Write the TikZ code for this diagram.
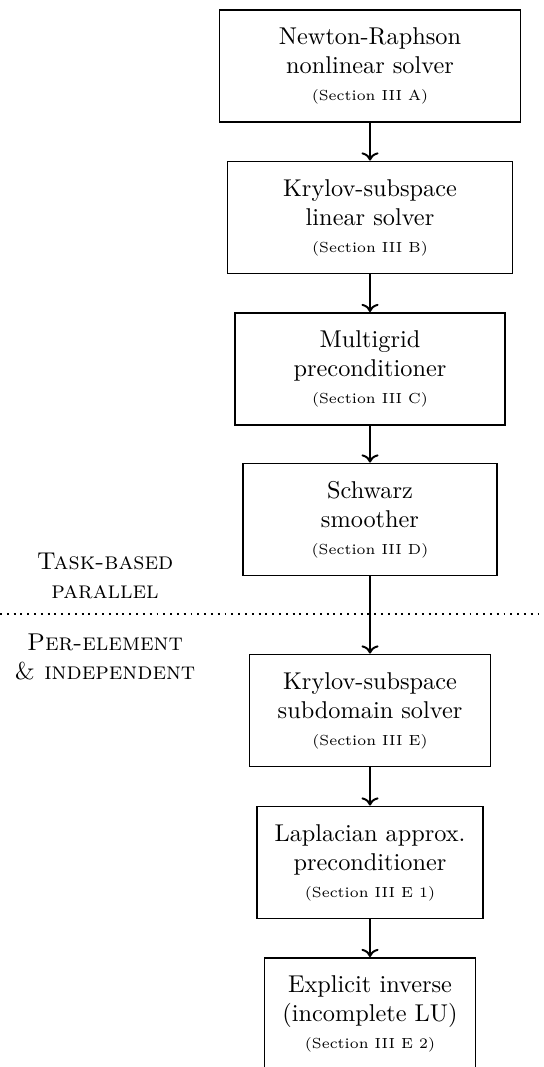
\documentclass[tikz,border=0pt]{standalone}
\usetikzlibrary{arrows.meta}
\tikzset{
  stagebox/.style={draw, thick, align=center, minimum height={112*0.4115pt}, inner sep=2pt},
  bw/.style={minimum width={#1*0.4115pt}},
  flow/.style={thick, ->},
  sidelabel/.style={align=center, inner sep=0pt},
}
\newcommand{\secref}[1]{\\[-1pt]{\fontsize{6}{7}\selectfont (Section #1)}}
\begin{document}
\begin{tikzpicture}[x=0.4115pt, y=-0.4115pt]
\useasboundingbox (0,0) rectangle (543,1067);
\node[stagebox, bw=301] (n1) at (370,66) {Newton-Raphson\\nonlinear solver\secref{III A}};
\node[stagebox, bw=285] (n2) at (370,217.5) {Krylov-subspace\\linear solver\secref{III B}};
\node[stagebox, bw=270] (n3) at (370,369) {Multigrid\\preconditioner\secref{III C}};
\node[stagebox, bw=254] (n4) at (370,519.5) {Schwarz\\smoother\secref{III D}};
\node[stagebox, bw=241] (n5) at (370,710.5) {Krylov-subspace\\subdomain solver\secref{III E}};
\node[stagebox, bw=226] (n6) at (370,862.5) {Laplacian approx.\\preconditioner\secref{III E 1}};
\node[stagebox, bw=211] (n7) at (370,1014) {Explicit inverse\\(incomplete LU)\secref{III E 2}};
\draw[flow] (n1) -- (n2);
\draw[flow] (n2) -- (n3);
\draw[flow] (n3) -- (n4);
\draw[flow] (n4) -- (n5);
\draw[flow] (n5) -- (n6);
\draw[flow] (n6) -- (n7);
\coordinate (dl) at (0,614);
\coordinate (dr) at (543,614);
\draw[dotted, thick] (dl) -- (dr);
\node[sidelabel] (tb) at (105,576) {\textsc{Task-based}\\\textsc{parallel}};
\node[sidelabel] (pe) at (105,657) {\textsc{Per-element}\\\textsc{\& independent}};
\end{tikzpicture}
\end{document}
